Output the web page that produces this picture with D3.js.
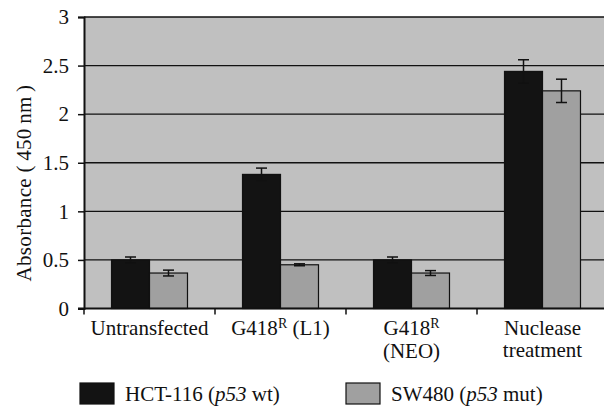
<!DOCTYPE html>
<html><head><meta charset="utf-8">
<script src="https://cdn.jsdelivr.net/npm/d3@7"></script>
<style>body{margin:0;background:#fff}svg{display:block}text{font-family:"Liberation Serif","Times New Roman",serif;fill:#111}</style>
</head><body>
<script>
const categories = ["Untransfected", "G418R (L1)", "G418R (NEO)", "Nuclease treatment"];
const seriesNames = ["HCT-116", "SW480"];
const hctValues = [0.50, 1.38, 0.50, 2.44];
const hctErrors = [0.03, 0.065, 0.03, 0.12];
const swValues = [0.365, 0.45, 0.365, 2.24];
const swErrors = [0.03, 0.01, 0.025, 0.12];
const yTicks = [0, 0.5, 1, 1.5, 2, 2.5, 3];

const W = 604, H = 409;
const svg = d3.select("body").append("svg").attr("width", W).attr("height", H);
const m = {left: 84, top: 17, right: 608, bottom: 308.5};
const x = d3.scaleBand().domain(categories).range([m.left, m.right]);
const y = d3.scaleLinear().domain([0, 3]).range([m.bottom, m.top]);
const fs = 21;

// plot background
svg.append("rect").attr("x", m.left).attr("y", m.top).attr("width", m.right - m.left).attr("height", m.bottom - m.top).attr("fill", "#c0c0c0");
// gridlines
svg.append("g").selectAll("line").data(yTicks.filter(d => d > 0)).join("line")
  .attr("x1", m.left).attr("x2", m.right).attr("y1", d => y(d)).attr("y2", d => y(d))
  .attr("stroke", "#111").attr("stroke-width", 1.3);

// bars
const bw = x.bandwidth() * 0.29;
const series = [
  {vals: hctValues, errs: hctErrors, fill: "#131313", off: -1},
  {vals: swValues, errs: swErrors, fill: "#a0a0a0", off: 0}
];
series.forEach(s => {
  const g = svg.append("g");
  g.selectAll("rect").data(categories).join("rect")
    .attr("x", (c) => x(c) + x.bandwidth() / 2 + s.off * bw)
    .attr("y", (c, i) => y(s.vals[i]))
    .attr("width", bw)
    .attr("height", (c, i) => y(0) - y(s.vals[i]))
    .attr("fill", s.fill).attr("stroke", "#111").attr("stroke-width", 1.2);
});
// error bars
series.forEach(s => {
  const g = svg.append("g").attr("stroke", "#111").attr("stroke-width", 1.5);
  categories.forEach((c, i) => {
    const cx = x(c) + x.bandwidth() / 2 + s.off * bw + bw / 2;
    const lo = y(s.vals[i] - s.errs[i]), hi = y(s.vals[i] + s.errs[i]);
    g.append("line").attr("x1", cx).attr("x2", cx).attr("y1", lo).attr("y2", hi);
    g.append("line").attr("x1", cx - 5.5).attr("x2", cx + 5.5).attr("y1", lo).attr("y2", lo);
    g.append("line").attr("x1", cx - 5.5).attr("x2", cx + 5.5).attr("y1", hi).attr("y2", hi);
  });
});

// y axis
const yAxis = d3.axisLeft(y).tickValues(yTicks).tickSize(6).tickPadding(9).tickFormat(d => String(d));
const ya = svg.append("g").attr("transform", `translate(${m.left},0)`).call(yAxis);
ya.select(".domain").attr("stroke", "#111").attr("stroke-width", 2);
ya.selectAll(".tick line").attr("stroke", "#111").attr("stroke-width", 1.5);
ya.selectAll(".tick text").attr("font-size", fs).attr("fill", "#111");

// x axis
svg.append("line").attr("x1", m.left - 6).attr("x2", m.right).attr("y1", y(0)).attr("y2", y(0)).attr("stroke", "#111").attr("stroke-width", 2);
const bounds = categories.map(c => x(c));
svg.append("g").selectAll("line").data(bounds).join("line")
  .attr("x1", d => d).attr("x2", d => d).attr("y1", y(0)).attr("y2", y(0) + 6)
  .attr("stroke", "#111").attr("stroke-width", 1.5);

// x labels
const lab = svg.append("g").attr("font-size", fs).attr("text-anchor", "middle");
function cx(i) { return x(categories[i]) + x.bandwidth() / 2; }
lab.append("text").attr("x", cx(0)).attr("y", 335).text("Untransfected");
let t = lab.append("text").attr("x", cx(1)).attr("y", 335);
t.append("tspan").text("G418");
t.append("tspan").attr("dy", -7).attr("font-size", 14).text("R");
t.append("tspan").attr("dy", 7).text(" (L1)");
t = lab.append("text").attr("x", cx(2)).attr("y", 335);
t.append("tspan").text("G418");
t.append("tspan").attr("dy", -7).attr("font-size", 14).text("R");
lab.append("text").attr("x", cx(2)).attr("y", 358).text("(NEO)");
lab.append("text").attr("x", cx(3)).attr("y", 335).text("Nuclease");
lab.append("text").attr("x", cx(3)).attr("y", 357).text("treatment");

// y title
svg.append("text").attr("transform", `translate(31,183) rotate(-90)`).attr("text-anchor", "middle")
  .attr("font-size", fs).attr("letter-spacing", 0.3).text("Absorbance (\u2009450\u2009nm\u2009)");

// legend
const leg = [
  {x: 80, fill: "#131313", name: seriesNames[0], mut: "wt"},
  {x: 346, fill: "#a0a0a0", name: seriesNames[1], mut: "mut"}
];
leg.forEach(l => {
  svg.append("rect").attr("x", l.x).attr("y", 383).attr("width", 34).attr("height", 21)
    .attr("fill", l.fill).attr("stroke", "#111").attr("stroke-width", 1.2);
  const tt = svg.append("text").attr("x", l.x + 45).attr("y", 401).attr("font-size", fs);
  tt.append("tspan").text(l.name + " (");
  tt.append("tspan").attr("font-style", "italic").text("p53");
  tt.append("tspan").text(" " + l.mut + ")");
});
</script>
</body></html>
